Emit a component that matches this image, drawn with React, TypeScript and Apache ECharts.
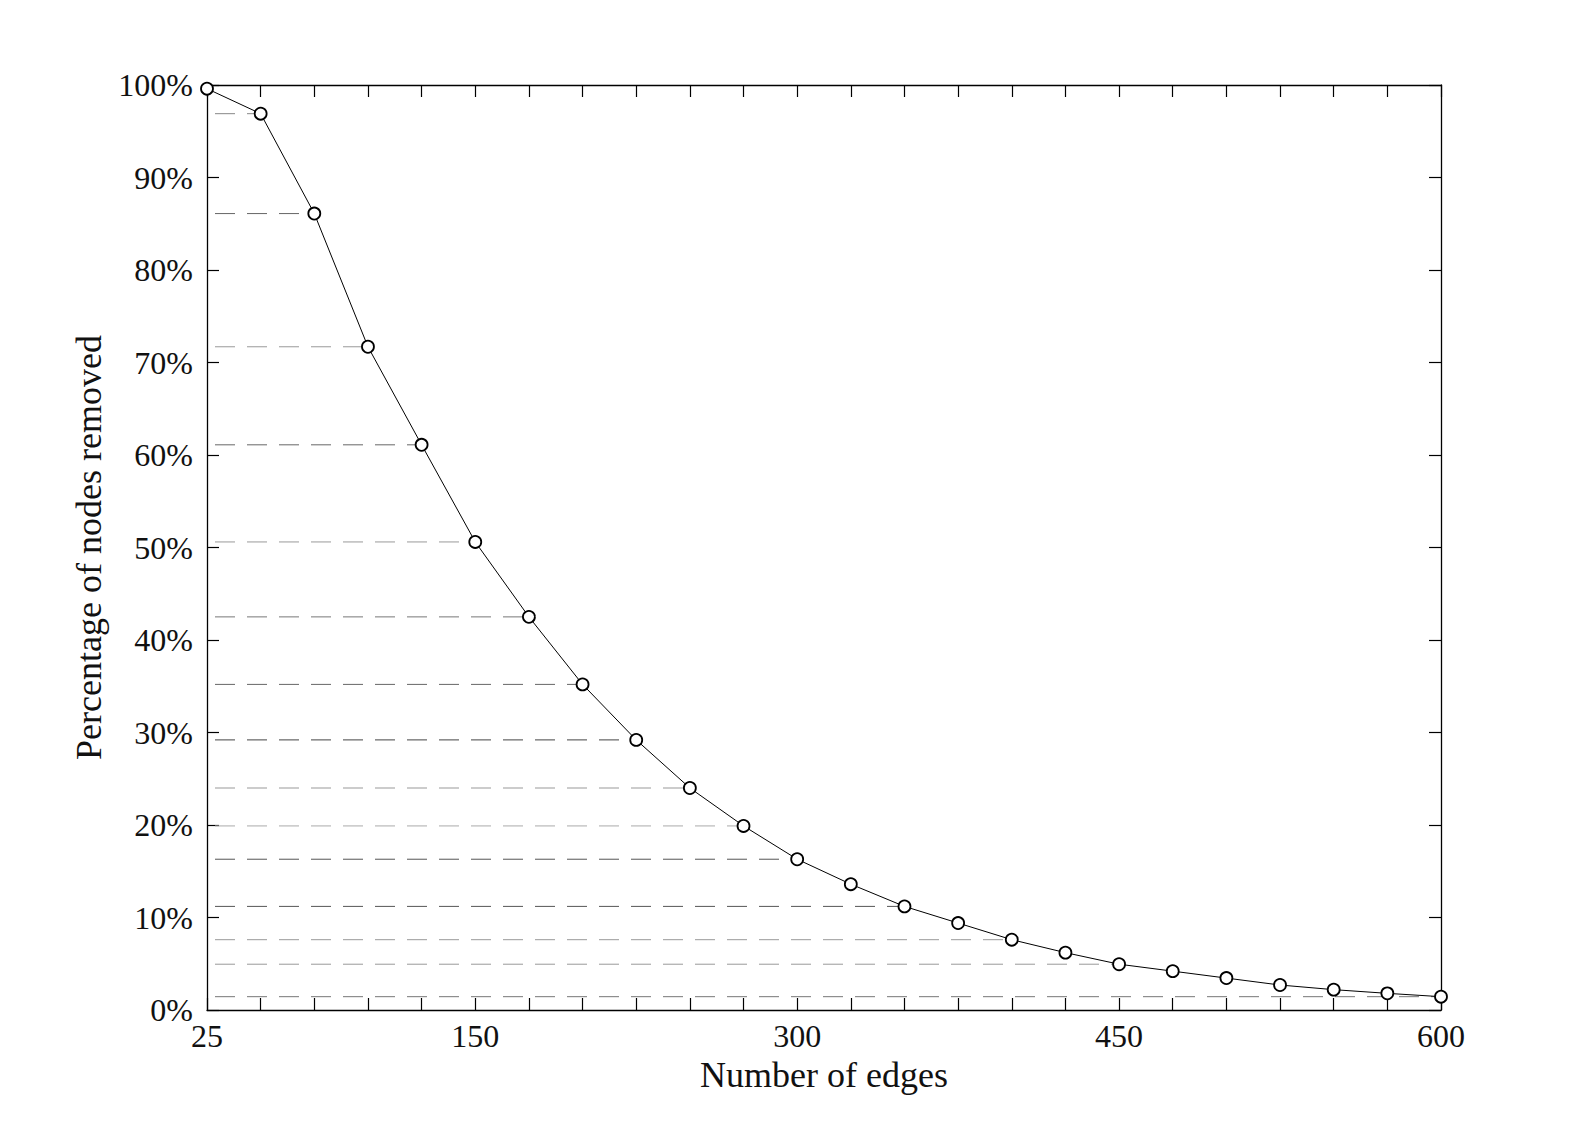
import React, { useEffect, useRef } from "react";
import * as echarts from "echarts";

// Number of edges (x) and percentage of nodes removed (y)
const edges = [25, 50, 75, 100, 125, 150, 175, 200, 225, 250, 275, 300, 325, 350, 375, 400, 425, 450, 475, 500, 525, 550, 575, 600];
const removedPct = [99.6, 96.9, 86.1, 71.7, 61.1, 50.6, 42.5, 35.2, 29.2, 24.0, 19.9, 16.3, 13.6, 11.2, 9.4, 7.6, 6.2, 4.95, 4.2, 3.45, 2.7, 2.2, 1.8, 1.44];

// Points that get a dashed guide line back to the y axis
const guideEdges = [50, 75, 100, 125, 150, 175, 200, 225, 250, 275, 300, 350, 400, 450, 600];
const guideColors = ["#888", "#666", "#999", "#666", "#999", "#777", "#666", "#444", "#999", "#aaa", "#555", "#555", "#999", "#999", "#777"];

const xLabelValues = [25, 150, 300, 450, 600];
const xMin = 25;
const xMax = 600;
const xStep = 25;
const yMin = 0;
const yMax = 100;
const yStep = 10;

const xTitle = "Number of edges";
const yTitle = "Percentage of nodes removed";

const FONT = "'Liberation Serif', 'DejaVu Serif', serif";

export default function App() {
  const ref = useRef<HTMLDivElement>(null);
  useEffect(() => {
    document.body.style.margin = "0";
    if (!ref.current) return;
    const chart = echarts.init(ref.current, undefined, { renderer: "svg" });

    const guideSeries = guideEdges.map((e, i) => {
      const idx = edges.indexOf(e);
      const v = removedPct[idx];
      return {
        type: "line",
        data: [
          [xMin, v],
          [e, v],
        ],
        symbol: "none",
        silent: true,
        z: 1,
        lineStyle: { color: guideColors[i], width: 1, type: [20, 12], dashOffset: -8 },
      };
    });

    const axisLine = { show: true, onZero: false, lineStyle: { color: "#000", width: 1.3 } };
    const tick = { show: true, inside: true, length: 12, lineStyle: { color: "#000", width: 1.2 } };

    chart.setOption({
      animation: false,
      backgroundColor: "#fff",
      textStyle: { fontFamily: FONT },
      grid: { left: 207, top: 85, width: 1234, height: 925, containLabel: false },
      xAxis: [
        {
          type: "value",
          min: xMin,
          max: xMax,
          interval: xStep,
          position: "bottom",
          axisLine,
          axisTick: tick,
          splitLine: { show: false },
          axisLabel: {
            show: true,
            margin: 10,
            fontSize: 32,
            fontFamily: FONT,
            color: "#111",
            showMinLabel: true,
            showMaxLabel: true,
            hideOverlap: false,
            formatter: (v: number) => (xLabelValues.includes(v) ? String(v) : ""),
          },
          name: xTitle,
          nameLocation: "middle",
          nameGap: 44,
          nameTextStyle: { fontSize: 36, fontFamily: FONT, color: "#111" },
        },
        {
          type: "value",
          min: xMin,
          max: xMax,
          interval: xStep,
          position: "top",
          axisLine,
          axisTick: tick,
          splitLine: { show: false },
          axisLabel: { show: false },
        },
      ],
      yAxis: [
        {
          type: "value",
          min: yMin,
          max: yMax,
          interval: yStep,
          position: "left",
          axisLine,
          axisTick: tick,
          splitLine: { show: false },
          axisLabel: {
            margin: 14,
            fontSize: 32,
            fontFamily: FONT,
            color: "#111",
            formatter: "{value}%",
          },
          name: yTitle,
          nameLocation: "middle",
          nameGap: 98,
          nameTextStyle: { fontSize: 36, fontFamily: FONT, color: "#111" },
        },
        {
          type: "value",
          min: yMin,
          max: yMax,
          interval: yStep,
          position: "right",
          axisLine,
          axisTick: tick,
          splitLine: { show: false },
          axisLabel: { show: false },
        },
      ],
      series: [
        ...guideSeries,
        {
          type: "line",
          data: edges.map((e, i) => [e, removedPct[i]]),
          symbol: "circle",
          symbolSize: 12,
          z: 5,
          lineStyle: { color: "#000", width: 1 },
          itemStyle: { color: "#fff", borderColor: "#000", borderWidth: 1.8 },
        },
      ],
    });
    return () => chart.dispose();
  }, []);
  return <div ref={ref} style={{ width: 1592, height: 1136 }} />;
}
